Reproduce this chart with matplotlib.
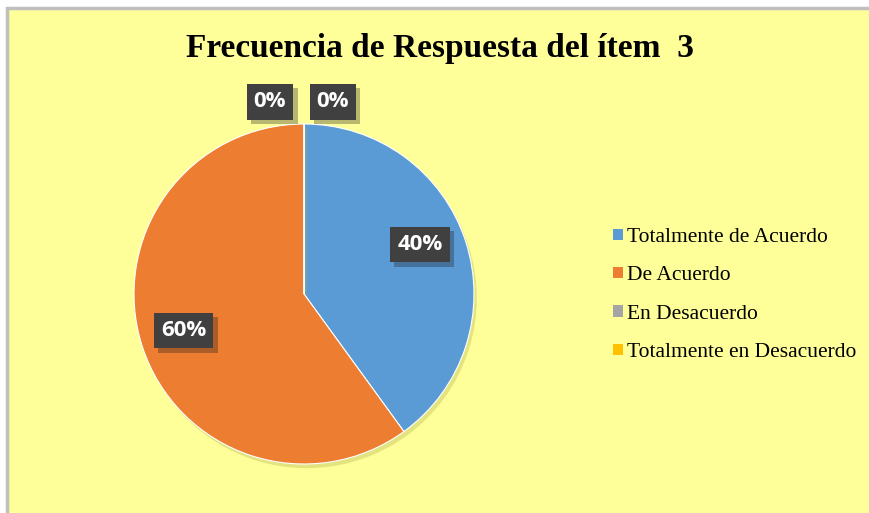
import matplotlib
matplotlib.use("Agg")
import matplotlib.pyplot as plt
from matplotlib.patches import Rectangle, Patch
import matplotlib.patheffects as pe
import numpy as np

title = "Frecuencia de Respuesta del ítem  3"
categories = ["Totalmente de Acuerdo", "De Acuerdo", "En Desacuerdo", "Totalmente en Desacuerdo"]
values = [40, 60, 0, 0]
colors = ["#5B9BD5", "#ED7D31", "#A5A5A5", "#FFC000"]

W, H = 870, 513
fig = plt.figure(figsize=(W / 100, H / 100), dpi=100)
fig.patch.set_facecolor("white")

# chart area background with border
bg = Rectangle((7 / W, -0.01), 1.02 - 7 / W, 1.01 - 8 / H, transform=fig.transFigure,
               facecolor="#FFFF99", edgecolor="#BFBFBF", linewidth=2.5, zorder=-10)
fig.patches.append(bg)

# pie axes
cx, cy, r = 304, 294, 170
ax = fig.add_axes([(cx - r) / W, (H - cy - r) / H, 2 * r / W, 2 * r / H], zorder=5)
ax.set_facecolor("none")
wedges, _ = ax.pie(values, colors=colors, startangle=90, counterclock=False,
                   wedgeprops=dict(linewidth=0.8, edgecolor="white"))
for w in wedges:
    w.set_path_effects([pe.SimplePatchShadow(offset=(2, -3), shadow_rgbFace="#B0B050", alpha=0.35), pe.Normal()])
ax.set_xlim(-1, 1)
ax.set_ylim(-1, 1)
ax.set_aspect("equal")
ax.axis("off")

total = sum(values)
box = dict(boxstyle="square,pad=0.32", facecolor="#404040", edgecolor="none")
start = 90.0
angle_nudge = [5, -1]          # best-fit label placement tweak (degrees)
zero_offsets = [-0.2, 0.17]
zi = 0
for i, v in enumerate(values):
    ang = start - 360 * v / total / 2
    start -= 360 * v / total
    lbl = f"{v:.0f}%"
    if v > 0:
        a = np.radians(ang + angle_nudge[i])
        x = 0.74 * np.cos(a)
        y = 0.74 * np.sin(a)
    else:
        x = zero_offsets[zi]
        y = 1.13
        zi += 1
    t = ax.text(x, y, lbl, ha="center", va="center", color="white", fontsize=16,
                fontweight="bold", family="Open Sans", bbox=box, clip_on=False)
    t.get_bbox_patch().set_path_effects([pe.SimplePatchShadow(offset=(3, -3), alpha=0.3), pe.Normal()])

fig.text(440 / W, 1 - 48 / H, title, ha="center", va="center", fontsize=24,
         fontweight="bold", family="Liberation Serif", color="black")

handles = [Patch(facecolor=c, edgecolor="none") for c in colors]
leg = fig.legend(handles, categories, loc="upper left", bbox_to_anchor=(613 / W, 1 - 228 / H),
                 frameon=False, prop=dict(family="Liberation Serif", size=15.5),
                 handlelength=0.45, handleheight=0.45, handletextpad=0.2, labelspacing=0.9,
                 borderaxespad=0, borderpad=0)

fig.savefig("out.png", dpi=100, facecolor=fig.get_facecolor())
